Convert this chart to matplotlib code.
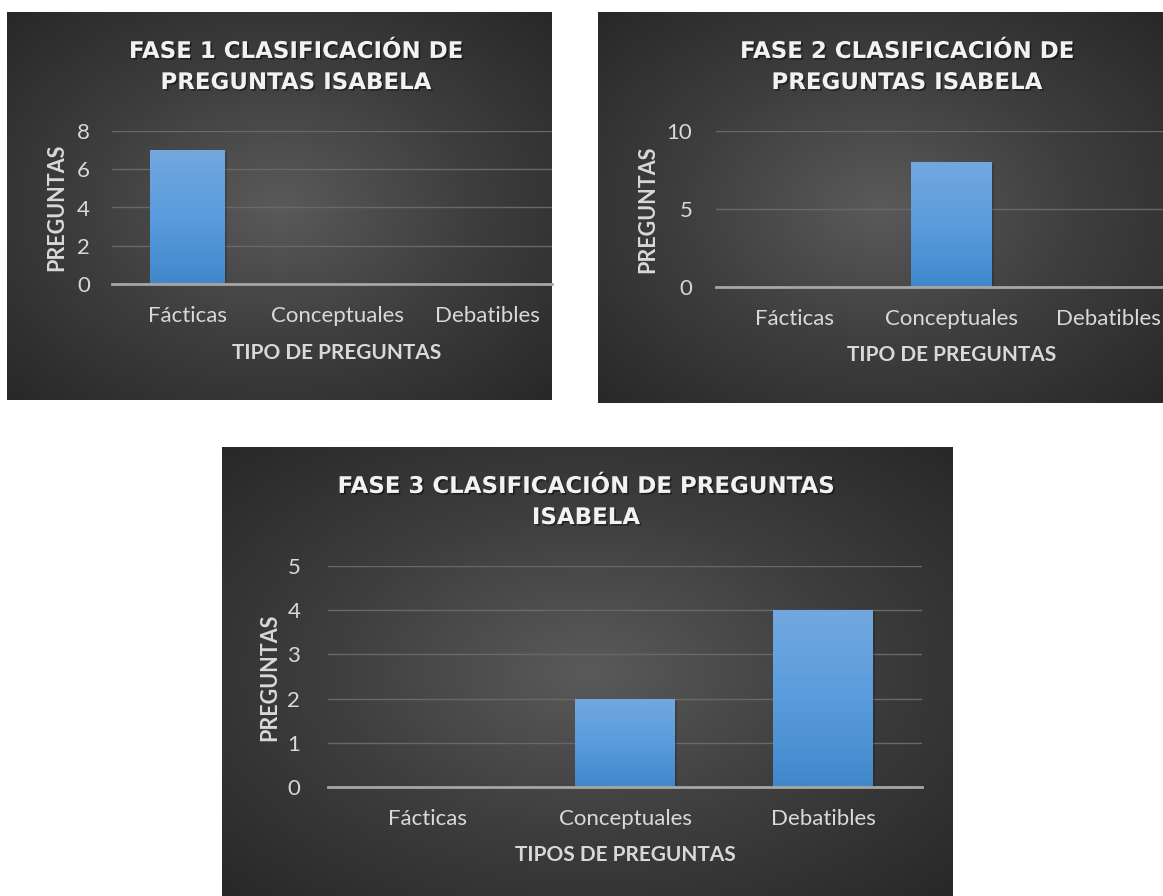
import numpy as np
import matplotlib
matplotlib.use("Agg")
import matplotlib.pyplot as plt
import matplotlib.patheffects as pe
from matplotlib.colors import LinearSegmentedColormap

categorias = ["Fácticas", "Conceptuales", "Debatibles"]
fase1 = [7, 0, 0]
fase2 = [0, 8, 0]
fase3 = [0, 2, 4]

W, H = 1163, 896
fig = plt.figure(figsize=(W / 100, H / 100), dpi=100)
fig.patch.set_facecolor("white")

FONT = ["Lato", "DejaVu Sans"]
TITLE_FONT = ["DejaVu Sans"]
fondo_cmap = LinearSegmentedColormap.from_list("fondo", ["#5a5a5a", "#3e3e3e", "#282828"])
barra_cmap = LinearSegmentedColormap.from_list("barra", ["#4088ca", "#5a9cdd", "#72a8df"])
sombra = [pe.withSimplePatchShadow(offset=(1.2, -1.2), shadow_rgbFace="black", alpha=0.45)]


def px_box(x0, y0, x1, y1):
    """caja en pixeles -> [left, bottom, width, height] en fraccion de figura"""
    return [x0 / W, 1 - y1 / H, (x1 - x0) / W, (y1 - y0) / H]


def fondo(x0, y0, x1, y1):
    """fondo oscuro con degradado radial"""
    ax = fig.add_axes(px_box(x0, y0, x1, y1), zorder=0)
    w, h = x1 - x0, y1 - y0
    xx, yy = np.meshgrid(np.linspace(-1, 1, int(w)), np.linspace(-1, 1, int(h)))
    r = np.clip(np.sqrt(xx ** 2 + yy ** 2) / np.sqrt(2), 0, 1)
    ax.imshow(r, cmap=fondo_cmap, vmin=0, vmax=1, aspect="auto",
              extent=(0, 1, 0, 1), interpolation="bilinear")
    ax.set_axis_off()


def grafico(caja, area, valores, ymax, paso, ancho, xmax, titulo, tx, ty,
            etiqueta_x, lx, ly, yl_x, yl_y, pad_y):
    fondo(*caja)
    ax = fig.add_axes(px_box(*area), zorder=1)
    ax.set_facecolor("none")
    x = np.arange(len(categorias))
    barras = ax.bar(x, valores, width=ancho, color="none", zorder=3)
    for b in barras:
        if b.get_height() <= 0:
            continue
        bx, by = b.get_x(), b.get_y()
        bw, bh = b.get_width(), b.get_height()
        grad = np.linspace(0, 1, 256).reshape(-1, 1)
        im = ax.imshow(grad, cmap=barra_cmap, aspect="auto", origin="lower",
                       extent=(bx, bx + bw, by, by + bh), zorder=3)
        im.set_clip_path(b)
        ax.add_patch(plt.Rectangle((bx, by), bw, bh, facecolor="none",
                                   edgecolor="none", zorder=2,
                                   path_effects=[pe.SimplePatchShadow(offset=(1.5, -1.5), shadow_rgbFace="black", alpha=0.18)]))
    ax.set_xlim(-0.5, xmax)
    ax.set_ylim(0, ymax)
    ax.set_yticks(np.arange(0, ymax + 0.01, paso))
    ax.set_xticks(x)
    ax.set_xticklabels(categorias)
    ax.yaxis.grid(True, color="#686868", linewidth=1.0)
    ax.set_axisbelow(True)
    for s in ["top", "right", "left"]:
        ax.spines[s].set_visible(False)
    ax.spines["bottom"].set_color("#a6a6a6")
    ax.spines["bottom"].set_linewidth(2.0)
    ax.spines["bottom"].set_zorder(4)
    ax.tick_params(length=0, colors="#d9d9d9", labelsize=16)
    ax.tick_params(axis="x", pad=16)
    ax.tick_params(axis="y", pad=pad_y)
    for t in ax.get_xticklabels() + ax.get_yticklabels():
        t.set_family(FONT)

    fig.text(tx / W, 1 - ty / H, titulo, ha="center", va="center",
             fontsize=16.5, fontweight="bold", color="#f2f2f2", family=TITLE_FONT,
             linespacing=1.45, path_effects=sombra)
    fig.text(lx / W, 1 - ly / H, etiqueta_x, ha="center", va="center",
             fontsize=15, fontweight="bold", color="#d9d9d9", family=FONT)
    fig.text(yl_x / W, 1 - yl_y / H, "PREGUNTAS", ha="center", va="center",
             rotation=90, fontsize=15.5, fontweight="bold", color="#d9d9d9", family=FONT)
    return ax


grafico((7, 12, 552, 400), (112, 131, 552, 284), fase1, 8, 2, 0.5,
        -0.5 + 440 / 150, "FASE 1 CLASIFICACIÓN DE\nPREGUNTAS ISABELA", 296, 67,
        "TIPO DE PREGUNTAS", 337, 353, 57, 207, 16)

grafico((598, 12, 1163, 403), (716, 131, 1163, 287), fase2, 10, 5, 0.51,
        -0.5 + 447 / 157, "FASE 2 CLASIFICACIÓN DE\nPREGUNTAS ISABELA", 907, 67,
        "TIPO DE PREGUNTAS", 952, 355, 648, 209, 17)

grafico((222, 447, 952, 896), (328, 566, 922, 787), fase3, 5, 1, 0.505,
        2.5, "FASE 3 CLASIFICACIÓN DE PREGUNTAS\nISABELA", 586, 502,
        "TIPOS DE PREGUNTAS", 625, 855, 270, 677, 20)

fig.savefig("out.png", dpi=100, facecolor="white")
